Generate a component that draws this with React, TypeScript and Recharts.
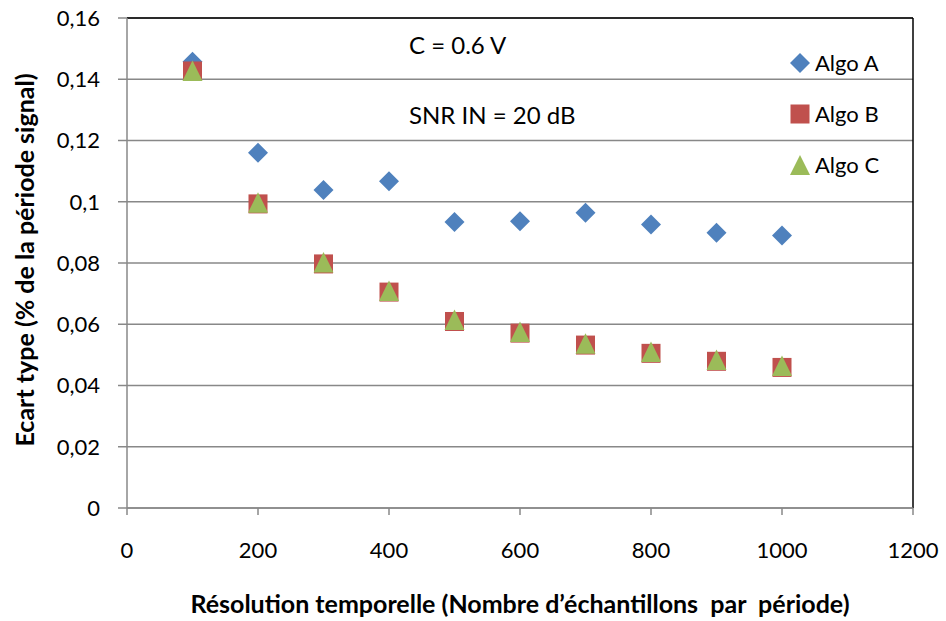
import { ScatterChart, Scatter, XAxis, YAxis, CartesianGrid, Legend, ReferenceLine } from 'recharts';

const resolutions = [100, 200, 300, 400, 500, 600, 700, 800, 900, 1000];
const algoA = [0.1457, 0.116, 0.1038, 0.1067, 0.0934, 0.0936, 0.0964, 0.0926, 0.0899, 0.089];
const algoB = [0.1427, 0.0993, 0.0797, 0.0705, 0.0609, 0.0571, 0.0532, 0.0505, 0.0479, 0.0459];
const algoC = [0.1425, 0.0995, 0.08, 0.0707, 0.0612, 0.0573, 0.0535, 0.0508, 0.0482, 0.0462];
const xTicks = [0, 200, 400, 600, 800, 1000, 1200];
const yTicks = [0, 0.02, 0.04, 0.06, 0.08, 0.1, 0.12, 0.14, 0.16];
const seriesNames = ['Algo A', 'Algo B', 'Algo C'];

const BLUE = '#4F81BD';
const RED = '#C0504D';
const GREEN = '#9BBB59';
const FONT = 'Lato, "Open Sans", sans-serif';

const toPoints = (ys: number[]) => resolutions.map((x, i) => ({ x, y: ys[i] }));

const Diamond = (props: any) => {
  const { cx, cy } = props;
  return <path d={`M${cx},${cy - 10} L${cx + 10},${cy} L${cx},${cy + 10} L${cx - 10},${cy} Z`} fill={BLUE} />;
};

const Square = (props: any) => {
  const { cx, cy } = props;
  return <rect x={cx - 9.5} y={cy - 9.5} width={19} height={19} fill={RED} />;
};

const Triangle = (props: any) => {
  const { cx, cy } = props;
  return <path d={`M${cx},${cy - 11} L${cx + 10},${cy + 9.5} L${cx - 10},${cy + 9.5} Z`} fill={GREEN} />;
};

const legendIcons = [
  <path key="a" d="M10,0 L20,10 L10,20 L0,10 Z" fill={BLUE} />,
  <rect key="b" x={0.5} y={0.5} width={19} height={19} fill={RED} />,
  <path key="c" d="M10,0 L20,20 L0,20 Z" fill={GREEN} />,
];

const renderLegend = () => (
  <div style={{ fontFamily: FONT, fontSize: 22, color: '#000' }}>
    {seriesNames.map((name, i) => (
      <div key={name} style={{ height: 51, display: 'flex', alignItems: 'center' }}>
        <svg width={20} height={20} style={{ marginRight: 5 }}>
          {legendIcons[i]}
        </svg>
        <span>{name}</span>
      </div>
    ))}
  </div>
);

const formatY = (v: number) => String(v).replace('.', ',');

export default function App() {
  return (
    <div style={{ position: 'absolute', left: 0, top: 0, width: 946, height: 621, background: '#fff' }}>
      <ScatterChart width={946} height={621} margin={{ top: 18, right: 33, left: 0, bottom: 0 }}>
        <CartesianGrid vertical={false} stroke="#888" strokeWidth={1.5} />
        <XAxis
          dataKey="x"
          type="number"
          domain={[0, 1200]}
          ticks={xTicks}
          height={113}
          tickSize={7}
          tickMargin={27}
          stroke="#888"
          strokeWidth={1.5}
          tick={{ fill: '#000', fontSize: 22, fontFamily: FONT }}
          label={{
            content: () => (
              <text
                x={520}
                y={603}
                textAnchor="middle"
                dominantBaseline="central"
                fill="#000"
                fontSize={25}
                fontWeight={700}
                fontFamily={FONT}
              >
                {'Résolution temporelle (Nombre d’échantillons\u00A0 par\u00A0 période)'}
              </text>
            ),
          }}
        />
        <YAxis
          dataKey="y"
          type="number"
          domain={[0, 0.16]}
          ticks={yTicks}
          width={127}
          tickSize={9}
          tickMargin={18}
          stroke="#888"
          strokeWidth={1.5}
          tickFormatter={formatY}
          tick={{ fill: '#000', fontSize: 22, fontFamily: FONT }}
          label={{
            content: () => (
              <text
                x={24}
                y={260}
                transform="rotate(-90 24 260)"
                textAnchor="middle"
                dominantBaseline="central"
                fill="#000"
                fontSize={25}
                fontWeight={700}
                fontFamily={FONT}
              >
                Ecart type (% de la période signal)
              </text>
            ),
          }}
        />
        <ReferenceLine y={0.16} stroke="#000" strokeWidth={1.5} />
        <ReferenceLine x={1200} stroke="#000" strokeWidth={1.5} />
        <Legend
          layout="vertical"
          align="center"
          verticalAlign="middle"
          content={renderLegend}
          wrapperStyle={{ left: 790, top: 37, width: 130 }}
        />
        <Scatter name="Algo A" data={toPoints(algoA)} shape={Diamond} isAnimationActive={false} />
        <Scatter name="Algo B" data={toPoints(algoB)} shape={Square} isAnimationActive={false} />
        <Scatter name="Algo C" data={toPoints(algoC)} shape={Triangle} isAnimationActive={false} />
      </ScatterChart>
      <div style={{ position: 'absolute', left: 409, top: 30, fontFamily: FONT, fontSize: 24, lineHeight: '30px' }}>
        C = 0.6 V
      </div>
      <div style={{ position: 'absolute', left: 409, top: 100, fontFamily: FONT, fontSize: 24, lineHeight: '30px' }}>
        SNR IN = 20 dB
      </div>
    </div>
  );
}
